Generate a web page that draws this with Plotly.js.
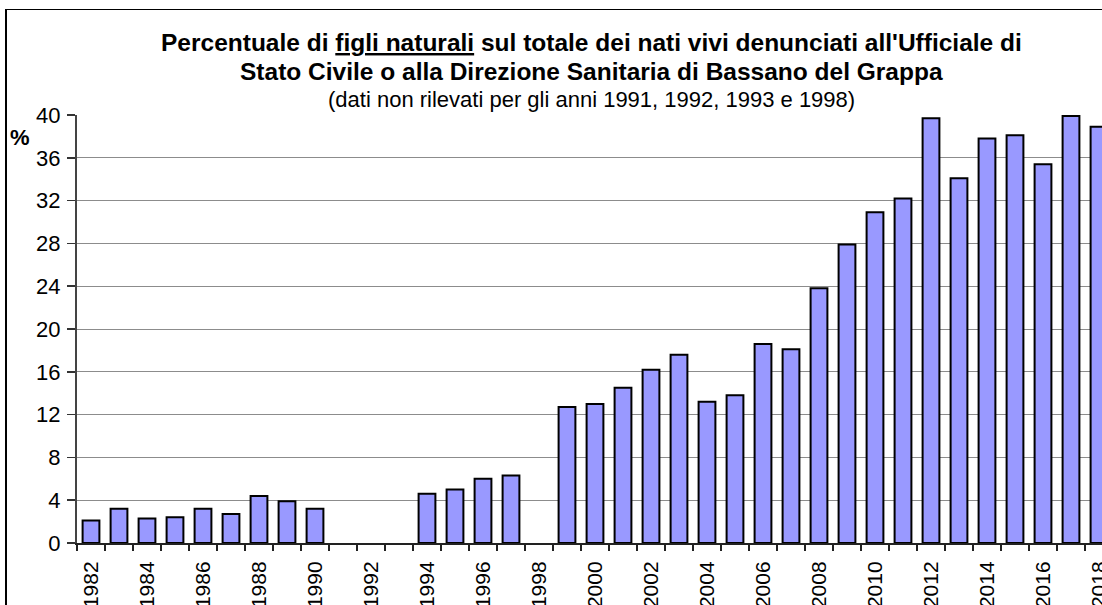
<!DOCTYPE html>
<html>
<head>
<meta charset="utf-8">
<script src="https://cdn.plot.ly/plotly-3.0.1.min.js"></script>
<style>
  html, body { margin: 0; padding: 0; overflow: hidden; background: #fff; }
  #chart { position: absolute; left: 0; top: 0; width: 1130px; height: 660px; }
  #frame { position: absolute; left: 5px; top: 9px; width: 2000px; height: 2000px;
           border-left: 2px solid #000; border-top: 1px solid #000; pointer-events: none; }
</style>
</head>
<body>
<div id="chart"></div>
<div id="frame"></div>
<script>
const years = [1982,1983,1984,1985,1986,1987,1988,1989,1990,1991,1992,1993,1994,1995,1996,1997,1998,1999,2000,
               2001,2002,2003,2004,2005,2006,2007,2008,2009,2010,2011,2012,2013,2014,2015,2016,2017,2018];
const percent = [2.1,3.2,2.3,2.4,3.2,2.7,4.4,3.9,3.2,null,null,null,4.6,5.0,6.0,6.3,null,12.7,13.0,
                 14.5,16.2,17.6,13.2,13.8,18.6,18.1,23.8,27.9,30.9,32.2,39.7,34.1,37.8,38.1,35.4,39.9,38.9];
const labelYears = [1982,1984,1986,1988,1990,1992,1994,1996,1998,2000,2002,2004,2006,2008,2010,2012,2014,2016,2018];
const labelText = labelYears.map(String);
const yTicks = [0,4,8,12,16,20,24,28,32,36,40];

const font = "Arial, 'Liberation Sans', sans-serif";

const trace = {
  type: 'bar',
  x: years,
  y: percent,
  width: 0.6,
  marker: { color: '#9999FF', line: { color: '#000000', width: 2 } },
  hoverinfo: 'x+y'
};

const layout = {
  width: 1130, height: 660,
  margin: { l: 77, r: 17, t: 115, b: 117 },
  paper_bgcolor: 'rgba(0,0,0,0)',
  plot_bgcolor: '#ffffff',
  showlegend: false,
  font: { family: font, color: '#000', size: 16 },
  xaxis: {
    type: 'linear',
    range: [1981.5, 2018.5],
    tickmode: 'array',
    tickvals: labelYears,
    ticktext: labelText,
    tickangle: -90,
    ticks: '',
    ticklabelstandoff: 8,
    tickfont: { family: font, size: 21, color: '#000' },
    showgrid: false,
    zeroline: false,
    showline: true,
    linecolor: '#222',
    linewidth: 2,
    minor: { tick0: 1981.5, dtick: 1, ticks: 'outside', ticklen: 6, tickwidth: 1.5, tickcolor: '#222', showgrid: false },
    fixedrange: true
  },
  yaxis: {
    range: [0, 40],
    tickmode: 'array',
    tickvals: yTicks,
    ticktext: yTicks.map(String),
    ticks: 'outside',
    ticklen: 8,
    tickwidth: 1.5,
    tickcolor: '#333',
    ticklabelstandoff: 2,
    tickfont: { family: font, size: 22, color: '#000' },
    showgrid: true,
    gridcolor: '#8c8c8c',
    gridwidth: 1,
    zeroline: false,
    showline: true,
    linecolor: '#444',
    linewidth: 2,
    fixedrange: true
  },
  annotations: [
    { xref: 'paper', yref: 'paper', x: 0.497, y: 1.17, xanchor: 'center', yanchor: 'middle', showarrow: false,
      text: "<b>Percentuale di <u>figli naturali</u> sul totale dei nati vivi denunciati all'Ufficiale di</b>",
      font: { family: font, size: 24.5, color: '#000' } },
    { xref: 'paper', yref: 'paper', x: 0.497, y: 1.1015, xanchor: 'center', yanchor: 'middle', showarrow: false,
      text: "<b>Stato Civile o alla Direzione Sanitaria di Bassano del Grappa</b>",
      font: { family: font, size: 24.5, color: '#000' } },
    { xref: 'paper', yref: 'paper', x: 0.497, y: 1.036, xanchor: 'center', yanchor: 'middle', showarrow: false,
      text: "(dati non rilevati per gli anni 1991, 1992, 1993 e 1998)",
      font: { family: font, size: 22, color: '#000' } },
    { xref: 'paper', yref: 'paper', x: -0.055, y: 0.948, xanchor: 'center', yanchor: 'middle', showarrow: false,
      text: "<b>%</b>", font: { family: font, size: 22, color: '#000' } }
  ]
};

Plotly.newPlot('chart', [trace], layout, { displayModeBar: false, staticPlot: true });
</script>
</body>
</html>
